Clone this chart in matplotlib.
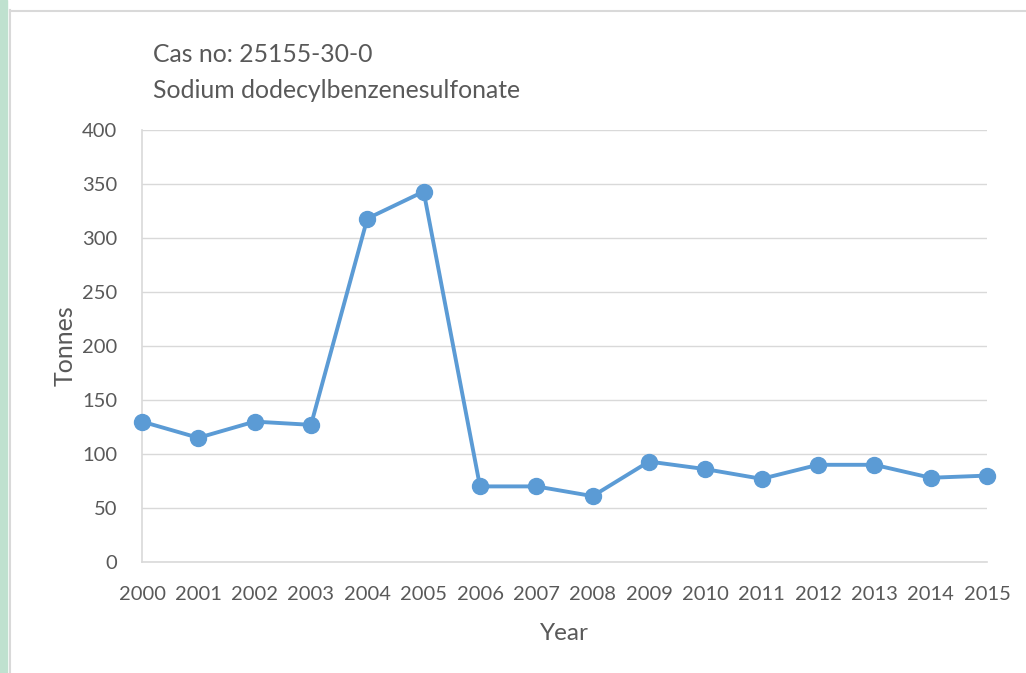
import matplotlib.pyplot as plt
from matplotlib.patches import Rectangle
from matplotlib.lines import Line2D

# Données
years = ["2000", "2001", "2002", "2003", "2004", "2005", "2006", "2007",
         "2008", "2009", "2010", "2011", "2012", "2013", "2014", "2015"]
tonnes = [130, 115, 130, 127, 318, 343, 70, 70, 61, 93, 86, 77, 90, 90, 78, 80]
yticks = [0, 50, 100, 150, 200, 250, 300, 350, 400]

plt.rcParams['font.family'] = ['Lato', 'DejaVu Sans']
grey_text = '#595959'
grid_col = '#d9d9d9'
blue = '#5b9bd5'

fig = plt.figure(figsize=(10.26, 6.73), dpi=100)
W, H = 1026, 673

# Bande verte et cadre
fig.patches.append(Rectangle((0, 0), 7 / W, 1, transform=fig.transFigure,
                             color='#bfe1cf', zorder=0))
fig.lines.append(Line2D([9.5 / W, 9.5 / W], [0, 1 - 10 / H], transform=fig.transFigure,
                        color=grid_col, lw=1.5))
fig.lines.append(Line2D([9.5 / W, 1], [1 - 10.5 / H, 1 - 10.5 / H], transform=fig.transFigure,
                        color=grid_col, lw=1.5))

ax = fig.add_axes([142 / W, 1 - 562 / H, (987 - 142) / W, (562 - 130) / H])
x = list(range(len(years)))
ax.plot(x, tonnes, marker='o', color=blue, lw=2.8, markersize=11.5, clip_on=False, zorder=3)

ax.set_xlim(0, len(years) - 1)
ax.set_ylim(0, 400)
ax.set_xticks(x)
ax.set_xticklabels(years)
ax.set_yticks(yticks)
ax.grid(axis='y', color=grid_col, lw=1)
ax.set_axisbelow(True)
for s in ['top', 'right']:
    ax.spines[s].set_visible(False)
for s in ['left', 'bottom']:
    ax.spines[s].set_color(grid_col)
    ax.spines[s].set_linewidth(1.2)
ax.tick_params(length=0, labelsize=14.5, colors=grey_text)
ax.tick_params(axis='x', pad=17)
ax.tick_params(axis='y', pad=18)

ax.set_xlabel("Year", fontsize=17.5, color=grey_text, labelpad=15)
ax.set_ylabel("Tonnes", fontsize=18, color=grey_text, labelpad=4)

fig.text(153 / W, 1 - 55 / H, "Cas no: 25155-30-0", fontsize=17.8, color=grey_text,
         va='center', ha='left')
fig.text(153 / W, 1 - 90 / H, "Sodium dodecylbenzenesulfonate", fontsize=17.8,
         color=grey_text, va='center', ha='left')

fig.savefig("out.png", dpi=100)
